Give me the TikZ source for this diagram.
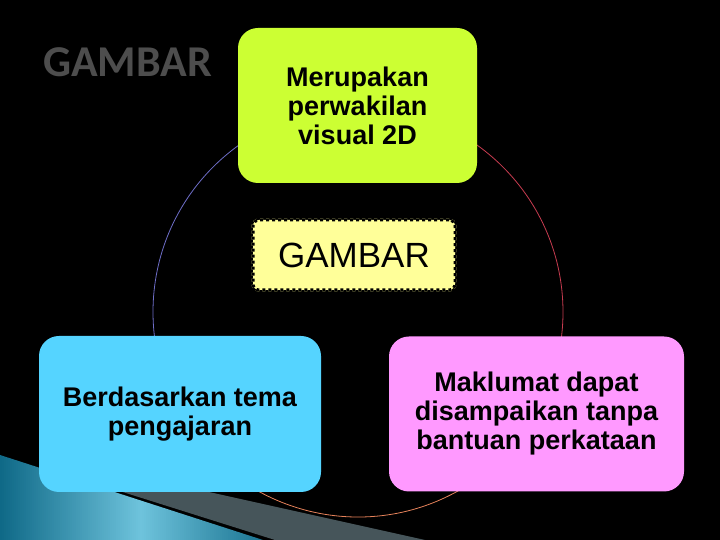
\documentclass[tikz,border=0pt]{standalone}
\usepackage{fontspec}
\setmainfont{Liberation Sans}
\newfontfamily\judulfont{Carlito}
\usetikzlibrary{positioning,calc}
\pgfdeclarelayer{background1}
\pgfdeclarelayer{background2}
\pgfsetlayers{background2,background1,main}
\tikzset{
	kotak/.style={rounded corners=20pt, inner sep=0pt, outer sep=0pt, align=center, text=black, font=\fontsize{27}{29}\selectfont\bfseries},
}

\begin{document}
\begin{tikzpicture}[x=1pt,y=1pt]

	\definecolor{hijaucolor}{RGB}{204,255,51}
	\definecolor{birucolor}{RGB}{85,212,255}
	\definecolor{jambucolor}{RGB}{255,153,255}
	\definecolor{kuningcolor}{RGB}{255,255,153}
	\definecolor{judulcolor}{RGB}{77,77,77}
	\definecolor{kiricolor}{RGB}{110,110,200}
	\definecolor{kanancolor}{RGB}{200,60,80}
	\definecolor{bawahcolor}{RGB}{230,130,90}
	\definecolor{tealgelap}{RGB}{15,105,135}
	\definecolor{tealterang}{RGB}{110,195,220}
	\definecolor{kelabucolor}{RGB}{70,85,90}

	\useasboundingbox (0,0) rectangle (720,540);

	\node(gambar) at (354,285) [minimum width=202pt, minimum height=70pt, inner sep=0pt, outer sep=0pt, rounded corners=6pt, fill=kuningcolor, preaction={draw=kuningcolor, line width=3pt}, draw=black, line width=3pt, dash pattern=on 3pt off 3pt, font=\fontsize{35}{40}\selectfont]{GAMBAR};

	\node(visual)[above=37pt of gambar, xshift=3.5pt, kotak, fill=hijaucolor, minimum width=239pt, minimum height=155pt]{Merupakan\\perwakilan\\visual 2D};
	\node(tema)[below=46pt of gambar, xshift=-174pt, kotak, fill=birucolor, minimum width=282pt, minimum height=156pt]{Berdasarkan tema\\pengajaran};
	\node(maklumat)[right=68pt of tema, kotak, fill=jambucolor, minimum width=295pt, minimum height=155pt]{Maklumat dapat\\disampaikan tanpa\\bantuan perkataan};

	\node(judul) at (43,477.5) [anchor=west, inner sep=0pt, text=judulcolor, font=\judulfont\bfseries\fontsize{44}{50}\selectfont]{GAMBAR};

	\coordinate (pusat) at ([shift={(4,-57)}] gambar.center);

	\begin{pgfonlayer}{background1}
		\draw[kiricolor, line width=0.8pt] (pusat) ++(90:205) arc[start angle=90, end angle=210, radius=205];
		\draw[kanancolor, line width=0.8pt] (pusat) ++(90:205) arc[start angle=90, end angle=-30, radius=205];
		\draw[bawahcolor, line width=0.8pt] (pusat) ++(210:205) arc[start angle=210, end angle=330, radius=205];
	\end{pgfonlayer}

	\begin{pgfonlayer}{background2}
		\fill[black] (0,0) rectangle (720,540);
		\begin{scope}
			\clip (0,0) -- (0,85) -- (263,0) -- cycle;
			\foreach \i in {0,...,132}{
				\pgfmathsetmacro\campur{100-abs(\i-70)*100/70}
				\fill[tealterang!\campur!tealgelap] (\i*2,0) rectangle (\i*2+2.3,90);
			}
		\end{scope}
		\fill[kelabucolor] (110,52) -- (110,70) -- (425,0) -- (275,0) -- cycle;
	\end{pgfonlayer}

\end{tikzpicture}
\end{document}
